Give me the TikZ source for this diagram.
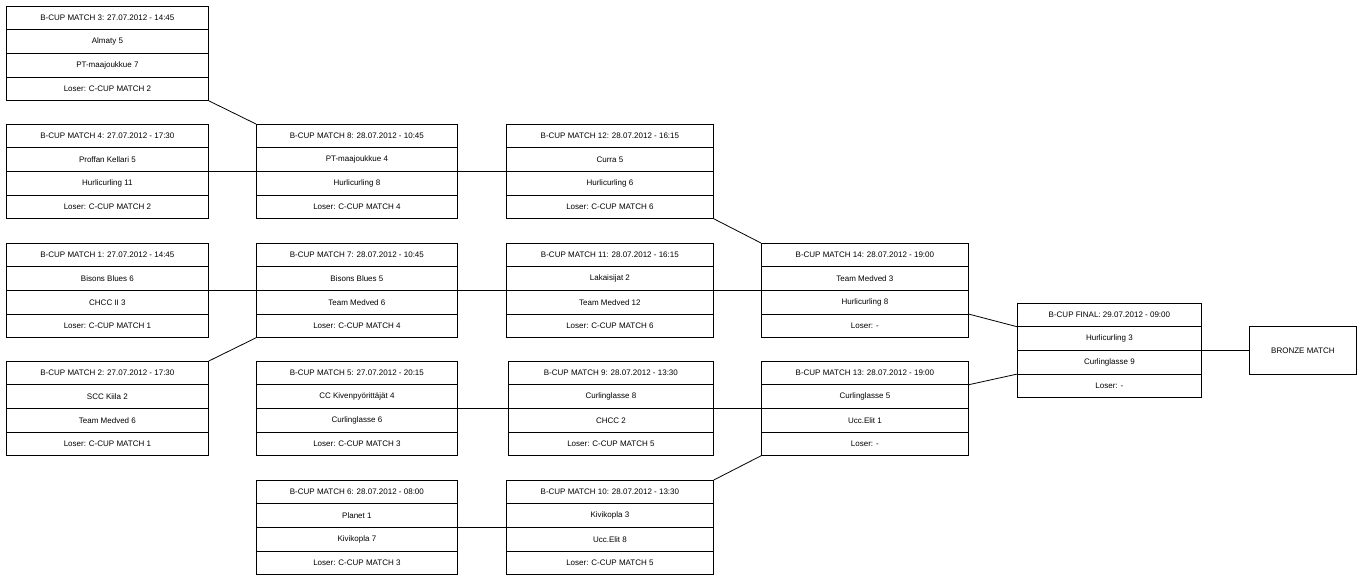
\documentclass[tikz,border=0pt]{standalone}
\usepackage{fontspec}
\setmainfont{Liberation Sans}
\usetikzlibrary{calc}
\tikzset{box/.style={draw,line width=0.8pt,anchor=north west,minimum height=94pt,inner sep=0pt},
 lnk/.style={line width=0.8pt}}
\newcommand{\bx}[8]{%
 \node[box,minimum width=#4pt] (#1) at (#2pt,-#3pt) {};
 \foreach \k in {1,2,3}{\draw[line width=0.8pt] ($(#1.north west)!\k/4!(#1.south west)$) -- ($(#1.north east)!\k/4!(#1.south east)$);}
 \node at ($(#1.north)!0.125!(#1.south)$) {#5};
 \node at ($(#1.north)!0.375!(#1.south)$) {#6};
 \node at ($(#1.north)!0.625!(#1.south)$) {#7};
 \node at ($(#1.north)!0.875!(#1.south)$) {#8};}
\newcommand{\E}[2]{($(#1.north east)!#2/4!(#1.south east)$)}
\newcommand{\W}[2]{($(#1.north west)!#2/4!(#1.south west)$)}
\begin{document}
\begin{tikzpicture}[font=\fontsize{8}{9}\selectfont]
\useasboundingbox (0,0) rectangle (1361pt,-581pt);
\bx{m3}{6}{6}{202}{B-CUP MATCH 3: 27.07.2012 - 14:45}{Almaty 5}{PT-maajoukkue 7}{Loser: C-CUP MATCH 2}
\bx{m4}{6}{124}{202}{B-CUP MATCH 4: 27.07.2012 - 17:30}{Proffan Kellari 5}{Hurlicurling 11}{Loser: C-CUP MATCH 2}
\bx{m1}{6}{243}{202}{B-CUP MATCH 1: 27.07.2012 - 14:45}{Bisons Blues 6}{CHCC II 3}{Loser: C-CUP MATCH 1}
\bx{m2}{6}{361}{202}{B-CUP MATCH 2: 27.07.2012 - 17:30}{SCC Kiila 2}{Team Medved 6}{Loser: C-CUP MATCH 1}
\bx{m8}{256}{124}{201}{B-CUP MATCH 8: 28.07.2012 - 10:45}{PT-maajoukkue 4}{Hurlicurling 8}{Loser: C-CUP MATCH 4}
\bx{m7}{256}{243}{201}{B-CUP MATCH 7: 28.07.2012 - 10:45}{Bisons Blues 5}{Team Medved 6}{Loser: C-CUP MATCH 4}
\bx{m5}{256}{361}{201}{B-CUP MATCH 5: 27.07.2012 - 20:15}{CC Kivenpyörittäjät 4}{Curlinglasse 6}{Loser: C-CUP MATCH 3}
\bx{m6}{256}{480}{201}{B-CUP MATCH 6: 28.07.2012 - 08:00}{Planet 1}{Kivikopla 7}{Loser: C-CUP MATCH 3}
\bx{m12}{506}{124}{207}{B-CUP MATCH 12: 28.07.2012 - 16:15}{Curra 5}{Hurlicurling 6}{Loser: C-CUP MATCH 6}
\bx{m11}{506}{243}{207}{B-CUP MATCH 11: 28.07.2012 - 16:15}{Lakaisijat 2}{Team Medved 12}{Loser: C-CUP MATCH 6}
\bx{m9}{508}{361}{205}{B-CUP MATCH 9: 28.07.2012 - 13:30}{Curlinglasse 8}{CHCC 2}{Loser: C-CUP MATCH 5}
\bx{m10}{506}{480}{207}{B-CUP MATCH 10: 28.07.2012 - 13:30}{Kivikopla 3}{Ucc.Elit 8}{Loser: C-CUP MATCH 5}
\bx{m14}{761}{243}{207}{B-CUP MATCH 14: 28.07.2012 - 19:00}{Team Medved 3}{Hurlicurling 8}{Loser: -}
\bx{m13}{761}{361}{207}{B-CUP MATCH 13: 28.07.2012 - 19:00}{Curlinglasse 5}{Ucc.Elit 1}{Loser: -}
\bx{fin}{1017}{303}{184}{B-CUP FINAL: 29.07.2012 - 09:00}{Hurlicurling 3}{Curlinglasse 9}{Loser: -}
\node[draw,line width=0.8pt,anchor=north west,minimum width=107pt,minimum height=48pt] (br) at (1249pt,-326pt) {BRONZE MATCH};
\draw[lnk] (m3.south east) -- (m8.north west);
\draw[lnk] (m4.east) -- (m8.west);
\draw[lnk] (m8.east) -- (m12.west);
\draw[lnk] (m1.east) -- (m7.west);
\draw[lnk] (m7.east) -- (m11.west);
\draw[lnk] (m11.east) -- (m14.west);
\draw[lnk] (m2.north east) -- (m7.south west);
\draw[lnk] (m12.south east) -- (m14.north west);
\draw[lnk] (m5.east) -- (m9.west);
\draw[lnk] (m9.east) -- (m13.west);
\draw[lnk] (m6.east) -- (m10.west);
\draw[lnk] (m10.north east) -- (m13.south west);
\draw[lnk] \E{m14}{3} -- \W{fin}{1};
\draw[lnk] \E{m13}{1} -- \W{fin}{3};
\draw[lnk] (fin.east) -- (br.west);
\end{tikzpicture}
\end{document}
